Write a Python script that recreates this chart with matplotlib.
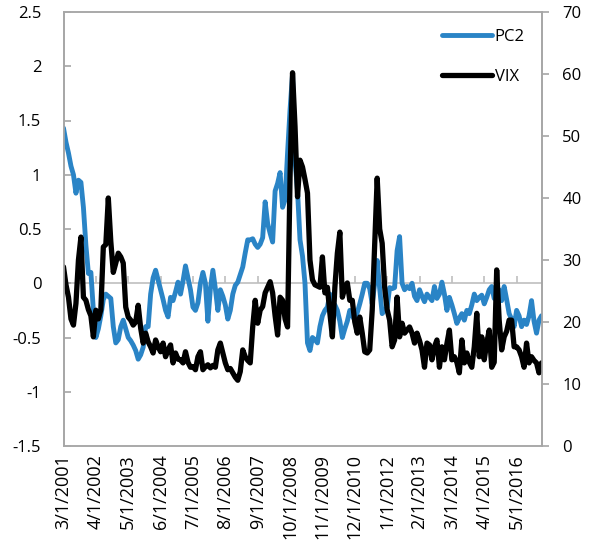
import matplotlib
matplotlib.use("Agg")
import matplotlib.pyplot as plt
import numpy as np

# ---------------- data ----------------
tick_labels = ["3/1/2001", "4/1/2002", "5/1/2003", "6/1/2004", "7/1/2005",
               "8/1/2006", "9/1/2007", "10/1/2008", "11/1/2009", "12/1/2010",
               "1/1/2012", "2/1/2013", "3/1/2014", "4/1/2015", "5/1/2016"]

pc2 = [1.43, 1.30, 1.20, 1.08, 1.00, 0.83, 0.95, 0.93, 0.70, 0.35,
       0.09, 0.10, -0.25, -0.50, -0.42, -0.30, -0.15, -0.10, -0.12, -0.14,
       -0.40, -0.55, -0.52, -0.40, -0.34, -0.42, -0.50, -0.53, -0.57, -0.62,
       -0.70, -0.66, -0.59, -0.40, -0.40, -0.10, 0.05, 0.12, 0.03, -0.06,
       -0.15, -0.25, -0.31, -0.13, -0.16, -0.08, 0.01, -0.10, 0.02, 0.16,
       0.05, -0.06, -0.22, -0.25, -0.18, 0.00, 0.10, 0.00, -0.35, -0.05,
       0.12, -0.05, -0.25, -0.06, -0.12, -0.20, -0.33, -0.25, -0.10, -0.02,
       0.01, 0.08, 0.15, 0.28, 0.40, 0.40, 0.41, 0.36, 0.33, 0.36,
       0.42, 0.75, 0.55, 0.46, 0.38, 0.85, 0.92, 1.02, 0.70, 0.77,
       1.20, 1.60, 1.93, 1.13, 0.85, 0.40, 0.25, 0.00, -0.55, -0.62,
       -0.50, -0.52, -0.55, -0.40, -0.30, -0.25, -0.22, -0.10, -0.19, -0.20,
       -0.25, -0.35, -0.50, -0.42, -0.35, -0.25, -0.30, -0.34, -0.27, -0.19,
       -0.10, 0.00, 0.00, -0.05, -0.19, 0.00, 0.21, -0.05, -0.28, -0.25,
       -0.22, -0.04, -0.05, -0.04, 0.30, 0.43, 0.00, -0.06, -0.03, -0.05,
       0.00, -0.12, -0.16, -0.06, -0.12, -0.17, -0.10, -0.13, -0.16, -0.03,
       -0.14, -0.10, 0.01, -0.10, -0.25, -0.13, -0.20, -0.28, -0.37, -0.32,
       -0.28, -0.34, -0.25, -0.28, -0.20, -0.10, -0.16, -0.13, -0.11, -0.19,
       -0.13, -0.06, -0.03, -0.14, -0.08, -0.06, -0.16, -0.03, -0.15, -0.28,
       -0.33, -0.40, -0.25, -0.30, -0.40, -0.34, -0.38, -0.30, -0.16, -0.35,
       -0.46, -0.34, -0.30]

vix = [28.9, 26.0, 24.0, 20.5, 19.5, 23.0, 30.0, 33.7, 24.0, 23.5,
       22.0, 21.0, 17.6, 21.9, 20.5, 22.0, 32.1, 32.5, 40.0, 33.0,
       28.0, 29.5, 31.1, 30.5, 29.5, 22.4, 20.8, 20.3, 19.5, 20.0,
       22.7, 19.0, 16.6, 18.2, 16.8, 16.0, 15.0, 17.1, 16.0, 15.2,
       16.6, 14.4, 15.5, 16.3, 13.4, 15.0, 14.0, 13.9, 13.4, 15.2,
       13.5, 12.7, 12.8, 12.3, 14.4, 15.2, 12.3, 12.8, 13.1, 12.6,
       13.0, 12.7, 15.5, 16.6, 15.0, 13.4, 12.3, 12.5, 11.8, 11.1,
       10.6, 12.0, 15.5, 14.4, 13.8, 13.4, 19.2, 23.5, 19.8, 21.9,
       22.5, 24.7, 25.6, 26.5, 24.7, 21.0, 17.9, 24.0, 23.5, 20.5,
       19.2, 43.4, 60.2, 51.5, 40.2, 46.1, 45.0, 43.0, 40.8, 30.0,
       26.8, 26.0, 25.8, 25.6, 30.5, 24.7, 25.6, 21.4, 17.6, 25.6,
       31.1, 34.5, 24.0, 25.5, 26.3, 23.5, 23.5, 20.0, 18.2, 20.8,
       18.2, 15.2, 15.0, 15.5, 21.9, 32.7, 43.2, 35.0, 32.7, 25.6,
       22.0, 20.3, 16.0, 17.1, 24.0, 17.6, 19.8, 18.2, 18.7, 19.2,
       18.2, 16.6, 18.2, 17.0, 15.5, 12.7, 16.6, 16.3, 13.9, 16.0,
       17.1, 12.7, 16.0, 13.9, 16.5, 18.7, 13.9, 14.4, 13.5, 11.8,
       17.1, 13.4, 15.0, 13.5, 12.7, 16.0, 21.4, 14.4, 17.6, 13.9,
       16.6, 18.7, 12.7, 13.5, 28.4, 20.3, 15.5, 17.6, 18.5, 20.3,
       20.3, 16.0, 16.0, 15.5, 14.4, 12.7, 16.6, 13.4, 14.4, 13.8,
       13.4, 11.8, 13.4]

tick_step = 13

# ---------------- plot ----------------
plt.rcParams['font.family'] = ['Open Sans', 'DejaVu Sans']
W, H = 591, 552
fig = plt.figure(figsize=(W / 100, H / 100), dpi=100)
x0, x1, ytop, ybot = 63.5, 541.5, 12, 446
ax = fig.add_axes([x0 / W, (H - ybot) / H, (x1 - x0) / W, (ybot - ytop) / H])

n = len(pc2)
x = np.arange(n)
blue = "#2a84c6"
grey = "#a6a6a6"
fs = 12

ax.axhline(0, color="#bfbfbf", lw=1.2, zorder=1)
ticks = np.arange(0, n, tick_step)
ax.plot(ticks[1:], np.zeros(len(ticks) - 1), ls="", marker=2, ms=5, mew=1.2,
        color="#bfbfbf", zorder=1)

l1, = ax.plot(x, pc2, color=blue, lw=3.5, solid_joinstyle="round",
              solid_capstyle="round", label="PC2", zorder=3)
ax.set_xlim(0, n - 1)
ax.set_ylim(-1.5, 2.5)
ax.set_yticks(np.arange(-1.5, 2.51, 0.5))
ax.set_yticklabels([f"{v:g}" for v in np.arange(-1.5, 2.51, 0.5)], fontsize=fs)
ax.set_xticks(ticks)
ax.set_xticklabels(tick_labels, rotation=90, fontsize=13)
ax.tick_params(axis="x", length=0, pad=6)
ax.tick_params(axis="y", direction="in", length=5, color=grey, width=1.2, pad=16)

ax2 = ax.twinx()
l2, = ax2.plot(x, vix, color="black", lw=3.8, solid_joinstyle="round",
               solid_capstyle="round", label="VIX")
ax2.set_ylim(0, 70)
ax2.set_yticks(np.arange(0, 71, 10))
ax2.set_yticklabels([str(v) for v in range(0, 71, 10)], fontsize=fs)
ax2.tick_params(axis="y", direction="out", length=5, color=grey, width=1.2, pad=10)

for a in (ax, ax2):
    for s in a.spines.values():
        s.set_color(grey)
        s.set_linewidth(1.2)
ax.spines["top"].set_color("#bfbfbf")
ax.spines["bottom"].set_color("#bfbfbf")

leg = ax2.legend(handles=[l1, l2], loc="upper right", frameon=False, fontsize=fs,
                 handlelength=3.0, handletextpad=0.2, labelspacing=1.45,
                 bbox_to_anchor=(1.0, 1.0), borderaxespad=0.6)

fig.savefig("out.png", dpi=100)
